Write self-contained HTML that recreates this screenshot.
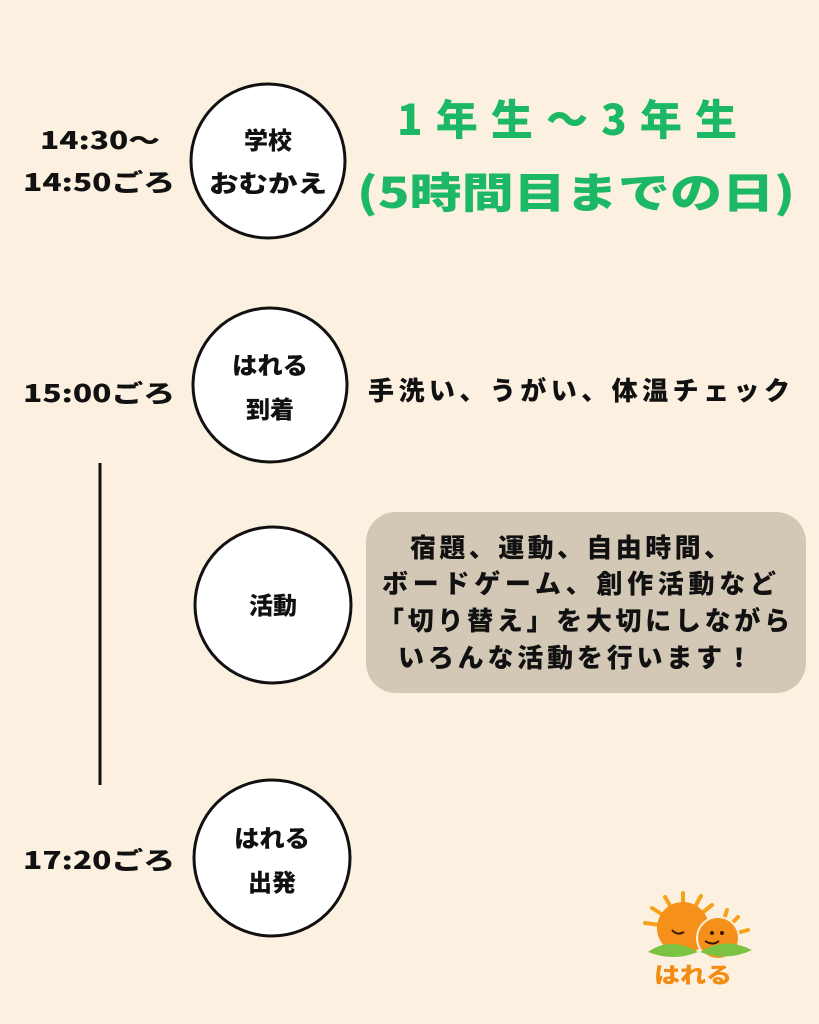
<!DOCTYPE html>
<html><head><meta charset="utf-8"><style>
html,body{margin:0;padding:0;background:#fcf1e0;}
svg{display:block;}
text{font-family:"Liberation Sans","Noto Sans CJK JP",sans-serif;font-weight:900;}
.j{font-family:"Noto Sans CJK JP",sans-serif;}
</style></head><body>
<svg width="819" height="1024" viewBox="0 0 819 1024" xmlns="http://www.w3.org/2000/svg">
<rect width="819" height="1024" fill="#fcf1e0"/>
<line x1="100" y1="463" x2="100" y2="785" stroke="#111" stroke-width="3"/>
<g fill="#fff" stroke="#111" stroke-width="3">
<ellipse cx="268" cy="161" rx="77" ry="77"/>
<ellipse cx="270" cy="385" rx="77" ry="77"/>
<ellipse cx="273" cy="605" rx="78" ry="78"/>
<ellipse cx="272" cy="858" rx="78" ry="78"/>
</g>
<g fill="#111" font-size="24" text-anchor="middle" class="j">
<text class="j" x="268" y="149">学校</text>
<text class="j" x="268" y="192" textLength="118" lengthAdjust="spacingAndGlyphs">おむかえ</text>
<text class="j" x="270" y="374" textLength="76" lengthAdjust="spacingAndGlyphs">はれる</text>
<text class="j" x="270" y="418">到着</text>
<text class="j" x="273" y="614">活動</text>
<text class="j" x="272" y="847" textLength="76" lengthAdjust="spacingAndGlyphs">はれる</text>
<text class="j" x="272" y="891">出発</text>
</g>
<g fill="#111" font-size="24">
<text class="j" x="40" y="149" textLength="120" lengthAdjust="spacingAndGlyphs">14:30〜</text>
<text class="j" x="23" y="191" textLength="152" lengthAdjust="spacingAndGlyphs">14:50ごろ</text>
<text class="j" x="23" y="402" textLength="152" lengthAdjust="spacingAndGlyphs">15:00ごろ</text>
<text class="j" x="23" y="869" textLength="152" lengthAdjust="spacingAndGlyphs">17:20ごろ</text>
</g>
<g fill="#1db866" font-size="42">
<text class="j" x="397" y="135" textLength="340" lengthAdjust="spacing">1年生〜3年生</text>
<text class="j" x="357" y="208" textLength="438" lengthAdjust="spacingAndGlyphs">(5時間目までの日)</text>
</g>
<text class="j" x="368" y="400" font-size="26" fill="#111" textLength="422" lengthAdjust="spacing">手洗い、うがい、体温チェック</text>
<rect x="366" y="512" width="440" height="181" rx="30" fill="#d3c8b6"/>
<g fill="#111" font-size="26">
<text class="j" x="410" y="557" textLength="320" lengthAdjust="spacing">宿題、運動、自由時間、</text>
<text class="j" x="382" y="593" textLength="394" lengthAdjust="spacing">ボードゲーム、創作活動など</text>
<text class="j" x="378" y="630" textLength="412" lengthAdjust="spacing">「切り替え」を大切にしながら</text>
<text class="j" x="398" y="667" textLength="354" lengthAdjust="spacing">いろんな活動を行います！</text>
</g>
<g>
<g stroke="#f7a21b" stroke-width="4" stroke-linecap="round">
<line x1="683" y1="928" x2="683" y2="893"/>
<line x1="683" y1="928" x2="665" y2="897"/>
<line x1="683" y1="928" x2="652" y2="908"/>
<line x1="683" y1="928" x2="645" y2="923"/>
<line x1="683" y1="928" x2="701" y2="896"/>
<line x1="683" y1="928" x2="712" y2="905"/>
<line x1="718" y1="938" x2="727" y2="910"/>
<line x1="718" y1="938" x2="738" y2="917"/>
<line x1="718" y1="938" x2="748" y2="930"/>
</g>
<circle cx="683" cy="928" r="26" fill="#f5901a"/>
<circle cx="718" cy="938" r="21" fill="#f5901a" stroke="#fcf1e0" stroke-width="2"/>
<path d="M672 930 q5 6 12 2 M705 941 q8 5 14 0" stroke="#3a1a00" stroke-width="2" fill="none"/>
<circle cx="712" cy="933" r="2" fill="#3a1a00"/><circle cx="722" cy="933" r="2" fill="#3a1a00"/>
<path d="M648 952 q22 -16 50 0 q-25 10 -50 0z" fill="#7cc243"/>
<path d="M700 952 q25 -16 52 -2 q-25 12 -52 2z" fill="#7cc243"/>
<text class="j" x="654" y="983" font-size="22" fill="#f28c12" textLength="78" lengthAdjust="spacingAndGlyphs">はれる</text>
</g>
</svg>
</body></html>
